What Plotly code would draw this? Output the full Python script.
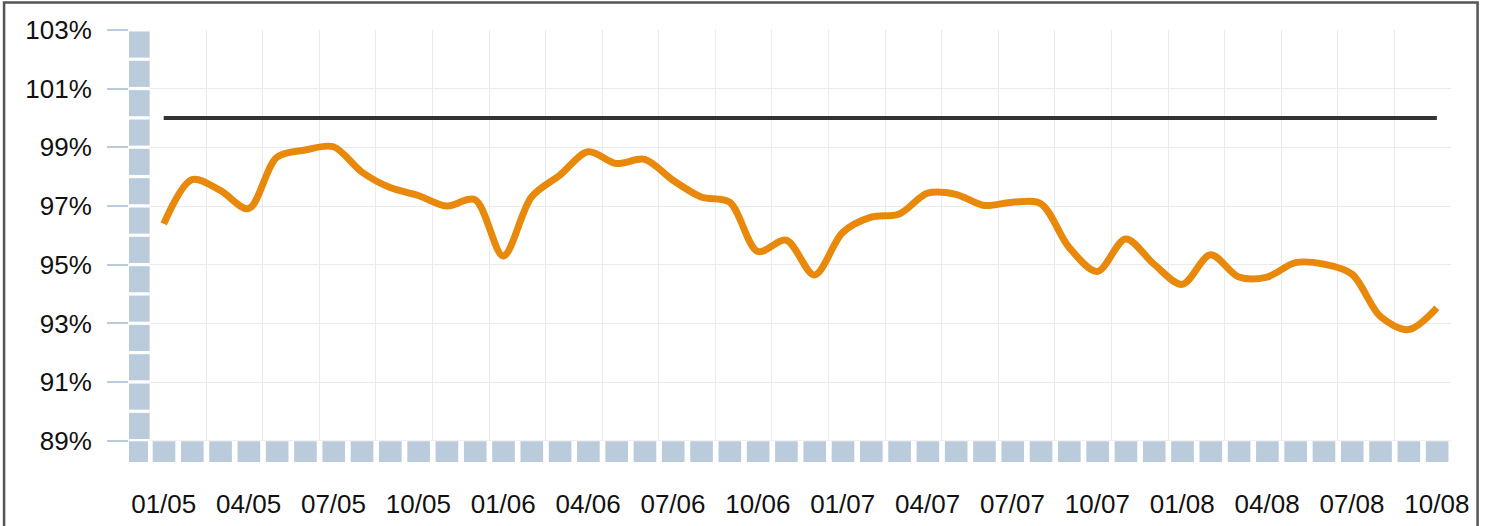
import plotly.graph_objects as go

# ---- data ----
month_labels = [
    "01/05", "02/05", "03/05", "04/05", "05/05", "06/05", "07/05", "08/05", "09/05", "10/05", "11/05", "12/05",
    "01/06", "02/06", "03/06", "04/06", "05/06", "06/06", "07/06", "08/06", "09/06", "10/06", "11/06", "12/06",
    "01/07", "02/07", "03/07", "04/07", "05/07", "06/07", "07/07", "08/07", "09/07", "10/07", "11/07", "12/07",
    "01/08", "02/08", "03/08", "04/08", "05/08", "06/08", "07/08", "08/08", "09/08", "10/08",
]
actual_pct = [
    96.39, 97.90, 97.53, 96.91, 98.66, 98.91, 99.02, 98.16, 97.63, 97.36, 97.00, 97.22,
    95.30, 97.31, 98.05, 98.85, 98.45, 98.59, 97.88, 97.31, 97.13, 95.45, 95.84, 94.65,
    96.10, 96.62, 96.73, 97.44, 97.40, 97.02, 97.13, 97.08, 95.59, 94.77, 95.88, 95.02,
    94.33, 95.34, 94.58, 94.58, 95.07, 95.02, 94.68, 93.24, 92.79, 93.53,
]
target_pct = [100] * len(month_labels)
y_tick_values = [89, 91, 93, 95, 97, 99, 101, 103]
y_tick_labels = ["89%", "91%", "93%", "95%", "97%", "99%", "101%", "103%"]
x_label_step = 3

# ---- derived ----
n = len(month_labels)
xs = list(range(n))
x_tick_vals = xs[::x_label_step]
x_tick_text = month_labels[::x_label_step]

X_MIN, X_MAX = -1.227, n - 0.5
Y_MIN, Y_MAX = 88.276, 103.0
WALL_X1 = -0.5
FLOOR_Y1 = 88.983
BLOCK_COLOR = "#bacbdc"

fig = go.Figure()

fig.add_trace(go.Scatter(
    x=xs, y=target_pct, mode="lines",
    line=dict(color="#333333", width=4),
    hoverinfo="skip", showlegend=False,
))
fig.add_trace(go.Scatter(
    x=xs, y=actual_pct, mode="lines",
    line=dict(color="#e8890c", width=7, shape="spline", smoothing=0.9),
    showlegend=False,
))

shapes = []
# white masks so gridlines do not show through the wall / floor gaps
shapes.append(dict(type="rect", xref="x", yref="y", x0=X_MIN, x1=WALL_X1, y0=Y_MIN, y1=Y_MAX,
                   fillcolor="white", line=dict(width=0), layer="between"))
shapes.append(dict(type="rect", xref="x", yref="y", x0=X_MIN, x1=X_MAX, y0=Y_MIN, y1=89.0,
                   fillcolor="white", line=dict(width=0), layer="between"))
# wall blocks (one per 1%)
for k in range(int(y_tick_values[0]), int(y_tick_values[-1])):
    shapes.append(dict(type="rect", xref="x", yref="y", x0=X_MIN, x1=WALL_X1,
                       y0=k + 0.06, y1=k + 0.95,
                       fillcolor=BLOCK_COLOR, line=dict(width=0), layer="between"))
# floor corner block
shapes.append(dict(type="rect", xref="x", yref="y", x0=X_MIN, x1=-0.555,
                   y0=Y_MIN, y1=FLOOR_Y1,
                   fillcolor=BLOCK_COLOR, line=dict(width=0), layer="between"))
# floor blocks (one per month)
for i in xs:
    shapes.append(dict(type="rect", xref="x", yref="y", x0=i - 0.39, x1=i + 0.41,
                       y0=Y_MIN, y1=FLOOR_Y1,
                       fillcolor=BLOCK_COLOR, line=dict(width=0), layer="between"))
# outer frame
shapes.append(dict(type="rect", xref="paper", yref="paper",
                   x0=-0.0945, x1=1.0201, y0=-0.2, y1=1.0637,
                   line=dict(color="#555555", width=2.5), fillcolor="rgba(0,0,0,0)", layer="above"))

fig.update_layout(
    width=1489, height=526,
    margin=dict(l=129.3, r=38, t=30.3, b=64.3, autoexpand=False),
    paper_bgcolor="white", plot_bgcolor="white",
    font=dict(family="Liberation Sans, Arial, sans-serif", size=26, color="#111111"),
    shapes=shapes,
    xaxis=dict(
        range=[X_MIN, X_MAX], tickmode="array", tickvals=x_tick_vals, ticktext=x_tick_text,
        showgrid=False, zeroline=False, showline=False, ticks="", ticklabelstandoff=24,
        automargin=False,
        minor=dict(tickmode="array", tickvals=[v - 0.5 for v in range(0, n + 1, 2)],
                   showgrid=True, gridcolor="#ebebeb", gridwidth=1, ticks=""),
    ),
    yaxis=dict(
        range=[Y_MIN, Y_MAX], tickmode="array", tickvals=y_tick_values, ticktext=y_tick_labels,
        showgrid=True, gridcolor="#ebebeb", gridwidth=1, zeroline=False, showline=False,
        automargin=False,
        ticks="outside", ticklen=21, tickwidth=2, tickcolor=BLOCK_COLOR, ticklabelstandoff=10,
    ),
)

fig.write_html(
    "out.html",
    config={"displayModeBar": False, "staticPlot": True},
    post_script=(
        "var s='margin:0;padding:0;overflow:hidden;height:526px;';"
        "document.documentElement.style.cssText=s;document.body.style.cssText=s;"
    ),
)
